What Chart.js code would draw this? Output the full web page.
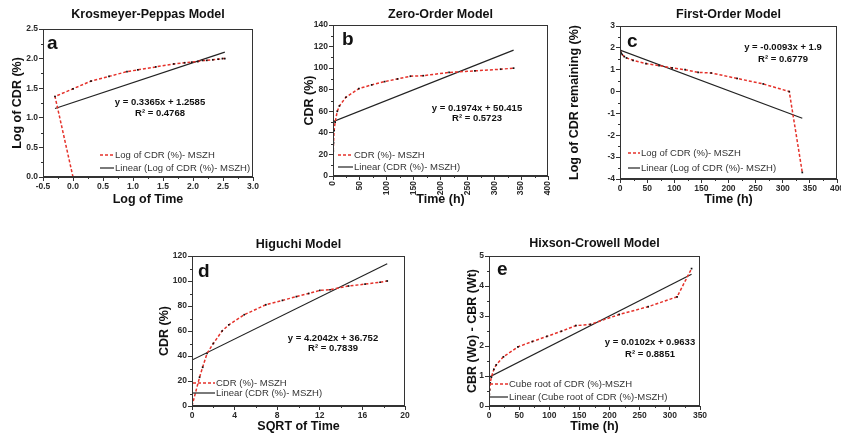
<!DOCTYPE html>
<html lang="en">
<head>
<meta charset="UTF-8">
<title>Release kinetics models</title>
<script src="https://cdn.jsdelivr.net/npm/chart.js@4.4.1/dist/chart.umd.min.js"></script>
<style>
  body { margin: 0; background: #fff; }
  #page { position: relative; width: 841px; height: 434px; overflow: hidden; }
  .panel { position: absolute; }
</style>
</head>
<body>
<div id="page">
  <div class="panel" style="left:0px;top:0px;width:280px;height:210px"><canvas id="chart-a"></canvas></div>
  <div class="panel" style="left:290px;top:0px;width:280px;height:210px"><canvas id="chart-b"></canvas></div>
  <div class="panel" style="left:560px;top:0px;width:281px;height:210px"><canvas id="chart-c"></canvas></div>
  <div class="panel" style="left:150px;top:210px;width:280px;height:224px"><canvas id="chart-d"></canvas></div>
  <div class="panel" style="left:440px;top:210px;width:280px;height:224px"><canvas id="chart-e"></canvas></div>
</div>

<script>
// ---- data ----
// sampling times (h)
const timeH = [0, 0.5, 1, 2, 4, 8, 12, 24, 48, 72, 96, 120, 144, 168, 216, 264, 312, 336];
// cumulative drug release (%) - MSZH
const cdrPct = [0, 23, 31, 42, 50, 60, 65, 73, 81, 84.5, 87.5, 90, 92.5, 93, 96, 97.5, 99, 100];

// a: Korsmeyer-Peppas (log CDR vs log time)
const logTime = [0, -0.3, 0, 0.3, 0.6, 0.9, 1.08, 1.38, 1.68, 1.86, 1.98, 2.08, 2.16, 2.23, 2.33, 2.42, 2.49, 2.53];
const logCdr = [0, 1.36, 1.49, 1.62, 1.70, 1.78, 1.81, 1.86, 1.91, 1.93, 1.94, 1.95, 1.97, 1.97, 1.98, 1.99, 2.0, 2.0];
const fitA_x = [-0.3, 2.53];
const fitA_y = [1.157, 2.11];

// b: zero order (CDR vs time)
const fitB_x = [0, 336];
const fitB_y = [50.4, 116.7];

// c: first order (log CDR remaining vs time)
const timeC = [0.5, 1, 2, 4, 8, 12, 24, 48, 72, 96, 120, 144, 168, 216, 264, 312, 336];
const logRemaining = [1.89, 1.84, 1.76, 1.70, 1.60, 1.54, 1.43, 1.28, 1.19, 1.08, 1.0, 0.88, 0.85, 0.6, 0.35, 0, -3.7];
const fitC_x = [0, 336];
const fitC_y = [1.9, -1.22];

// d: Higuchi (CDR vs sqrt time)
const sqrtTime = [0, 0.71, 1, 1.41, 2, 2.83, 3.46, 4.9, 6.93, 8.49, 9.8, 10.95, 12, 12.96, 14.7, 16.25, 17.66, 18.33];
const fitD_x = [0, 18.33];
const fitD_y = [36.75, 113.8];

// e: Hixson-Crowell (cube root difference vs time)
const cubeRootDiff = [0, 0.39, 0.54, 0.77, 0.96, 1.22, 1.37, 1.64, 1.97, 2.15, 2.32, 2.49, 2.68, 2.72, 3.05, 3.31, 3.64, 4.58];
const fitE_x = [0, 336];
const fitE_y = [0.96, 4.39];

// ---- drawing ----
const FONT = '"Liberation Sans", Arial, sans-serif';
const RED = '#e5322b';

function pts(xs, ys) {
    return xs.map((x, i) => ({ x: x, y: ys[i] }));
}

// frame, minor ticks, title, letter, equation and legend - placed relative to the plot area
const panelText = {
    id: 'panelText',
    afterDraw(chart, args, o) {
        const ctx = chart.ctx;
        const ca = chart.chartArea;
        ctx.save();
        ctx.strokeStyle = '#333';
        ctx.lineWidth = 1;
        ctx.strokeRect(Math.round(ca.left) + 0.5, Math.round(ca.top) + 0.5, Math.round(ca.width) - 1, Math.round(ca.height) - 1);

        // minor ticks half way between the labelled ones
        const xs = chart.scales.x, ys = chart.scales.y;
        ctx.beginPath();
        for (let v = xs.min + o.xMajor / 2; v < xs.max; v += o.xMajor) {
            const px = Math.round(xs.getPixelForValue(v)) + 0.5;
            ctx.moveTo(px, Math.round(ca.bottom)); ctx.lineTo(px, Math.round(ca.bottom) + 2);
        }
        for (let v = ys.min + o.yMajor / 2; v < ys.max; v += o.yMajor) {
            const py = Math.round(ys.getPixelForValue(v)) + 0.5;
            ctx.moveTo(Math.round(ca.left), py); ctx.lineTo(Math.round(ca.left) - 2, py);
        }
        ctx.stroke();

        ctx.fillStyle = '#111';
        ctx.textBaseline = 'middle';
        ctx.textAlign = 'center';
        ctx.font = 'bold 12.5px ' + FONT;
        ctx.fillText(o.title, (ca.left + ca.right) / 2, ca.top + o.titleDy);

        ctx.textAlign = 'left';
        ctx.font = 'bold 19px ' + FONT;
        ctx.fillText(o.letter, ca.left + o.letterAt[0] - 5, ca.top + o.letterAt[1]);

        ctx.textAlign = 'center';
        ctx.font = 'bold 9.5px ' + FONT;
        ctx.fillText(o.eq[0], ca.left + o.eqAt[0], ca.top + o.eqAt[1]);
        ctx.fillText(o.eq[1], ca.left + o.eqAt[0], ca.top + o.eqAt[1] + o.eqGap);

        // legend
        const lx0 = ca.left + o.legAt[0], lx1 = ca.left + o.legAt[1];
        const ly = [ca.bottom - o.legAt[2], ca.bottom - o.legAt[3]];
        ctx.lineWidth = 1.5;
        ctx.strokeStyle = RED;
        ctx.setLineDash([3, 2]);
        ctx.beginPath(); ctx.moveTo(lx0, ly[0]); ctx.lineTo(lx1, ly[0]); ctx.stroke();
        ctx.setLineDash([]);
        ctx.strokeStyle = '#222';
        ctx.lineWidth = 1.2;
        ctx.beginPath(); ctx.moveTo(lx0, ly[1]); ctx.lineTo(lx1, ly[1]); ctx.stroke();
        ctx.textAlign = 'left';
        ctx.fillStyle = '#333';
        ctx.font = '9.5px ' + FONT;
        ctx.fillText(o.legend[0], lx1 + 1, ly[0]);
        ctx.fillText(o.legend[1], lx1 + 1, ly[1]);
        ctx.restore();
    }
};

function axis(opts) {
    return {
        type: 'linear',
        min: opts.min,
        max: opts.max,
        afterFit: opts.afterFit,
        grid: { drawOnChartArea: false, tickLength: 4, color: '#333', lineWidth: 1 },
        border: { color: '#333', width: 1 },
        title: {
            display: true,
            text: opts.title,
            color: '#111',
            font: { family: FONT, size: 12.5, weight: 'bold' },
            padding: { top: opts.titlePad, bottom: opts.titlePad }
        },
        ticks: {
            stepSize: opts.major,
            autoSkip: false,
            padding: 1,
            color: '#2a2a2a',
            minRotation: opts.rot || 0,
            maxRotation: opts.rot || 0,
            font: { family: FONT, size: 8.5, weight: 'bold' },
            callback: v => opts.dec ? v.toFixed(opts.dec) : String(Math.round(v))
        }
    };
}

function makePanel(id, p) {
    const yWidth = p.yWidth, xHeight = p.xHeight;
    p.text.xMajor = p.x.major;
    p.text.yMajor = p.y.major;
    new Chart(document.getElementById(id), {
        type: 'scatter',
        data: {
            datasets: [
                {
                    data: pts(p.xs, p.ys),
                    showLine: true,
                    borderColor: RED,
                    borderWidth: 1.5,
                    borderDash: [3, 2],
                    pointStyle: 'rect',
                    pointRadius: 1.2,
                    pointBorderWidth: 0,
                    pointBackgroundColor: '#111'
                },
                {
                    data: pts(p.fitX, p.fitY),
                    showLine: true,
                    borderColor: '#222',
                    borderWidth: 1.2,
                    pointRadius: 0
                }
            ]
        },
        options: {
            responsive: true,
            maintainAspectRatio: false,
            animation: false,
            layout: { padding: { left: 0, top: p.padTop, right: p.padRight, bottom: 0 } },
            plugins: {
                legend: { display: false },
                tooltip: { enabled: false },
                panelText: p.text
            },
            scales: {
                x: axis(Object.assign({}, p.x, {
                    afterFit: s => { s.height = xHeight; s.paddingLeft = 0; s.paddingRight = 0; }
                })),
                y: axis(Object.assign({}, p.y, {
                    afterFit: s => { s.width = yWidth; s.paddingTop = 0; s.paddingBottom = 0; }
                }))
            }
        },
        plugins: [panelText]
    });
}

makePanel('chart-a', {
    xs: logTime, ys: logCdr, fitX: fitA_x, fitY: fitA_y,
    yWidth: 43, xHeight: 33, padTop: 29, padRight: 27,
    x: { min: -0.5, max: 3, major: 0.5, dec: 1, title: 'Log of Time', titlePad: 2.5 },
    y: { min: 0, max: 2.5, major: 0.5, dec: 1, title: 'Log of CDR (%)', titlePad: 10.5 },
    text: {
        title: 'Krosmeyer-Peppas Model', titleDy: -14, letter: 'a', letterAt: [9, 15],
        eq: ['y = 0.3365x + 1.2585', 'R\u00b2 = 0.4768'], eqAt: [117, 73], eqGap: 11,
        legend: ['Log of CDR (%)- MSZH', 'Linear (Log of CDR (%)- MSZH)'], legAt: [57, 71, 22, 9]
    }
});

makePanel('chart-b', {
    xs: timeH, ys: cdrPct, fitX: fitB_x, fitY: fitB_y,
    yWidth: 43, xHeight: 34, padTop: 25, padRight: 22,
    x: { min: 0, max: 400, major: 50, title: 'Time (h)', titlePad: 2.5, rot: 90 },
    y: { min: 0, max: 140, major: 20, title: 'CDR (%)', titlePad: 12.5 },
    text: {
        title: 'Zero-Order Model', titleDy: -10, letter: 'b', letterAt: [14, 15],
        eq: ['y = 0.1974x + 50.415', 'R\u00b2 = 0.5723'], eqAt: [144, 83], eqGap: 10.5,
        legend: ['CDR (%)- MSZH', 'Linear (CDR (%)- MSZH)'], legAt: [5, 20, 21, 9]
    }
});

makePanel('chart-c', {
    xs: timeC, ys: logRemaining, fitX: fitC_x, fitY: fitC_y,
    yWidth: 60, xHeight: 31, padTop: 26, padRight: 4,
    x: { min: 0, max: 400, major: 50, title: 'Time (h)', titlePad: 2.5 },
    y: { min: -4, max: 3, major: 1, title: 'Log of CDR remaining (%)', titlePad: 7.5 },
    text: {
        title: 'First-Order Model', titleDy: -11, letter: 'c', letterAt: [12, 16],
        eq: ['y = -0.0093x + 1.9', 'R\u00b2 = 0.6779'], eqAt: [163, 21], eqGap: 12,
        legend: ['Log of CDR (%)- MSZH', 'Linear (Log of CDR (%)- MSZH)'], legAt: [8, 20, 26, 11]
    }
});

makePanel('chart-d', {
    xs: sqrtTime, ys: cdrPct, fitX: fitD_x, fitY: fitD_y,
    yWidth: 42, xHeight: 28, padTop: 46, padRight: 25,
    x: { min: 0, max: 20, major: 4, title: 'SQRT of Time', titlePad: 0 },
    y: { min: 0, max: 120, major: 20, title: 'CDR (%)', titlePad: 7.5 },
    text: {
        title: 'Higuchi Model', titleDy: -11, letter: 'd', letterAt: [11, 16],
        eq: ['y = 4.2042x + 36.752', 'R\u00b2 = 0.7839'], eqAt: [141, 82], eqGap: 10,
        legend: ['CDR (%)- MSZH', 'Linear (CDR (%)- MSZH)'], legAt: [1, 23, 23, 13]
    }
});

makePanel('chart-e', {
    xs: timeH, ys: cubeRootDiff, fitX: fitE_x, fitY: fitE_y,
    yWidth: 49, xHeight: 28, padTop: 46, padRight: 20,
    x: { min: 0, max: 350, major: 50, title: 'Time (h)', titlePad: 0 },
    y: { min: 0, max: 5, major: 1, title: 'CBR (Wo) - CBR (Wt)', titlePad: 25.5 },
    text: {
        title: 'Hixson-Crowell Model', titleDy: -12, letter: 'e', letterAt: [13, 14],
        eq: ['y = 0.0102x + 0.9633', 'R\u00b2 = 0.8851'], eqAt: [161, 86], eqGap: 12,
        legend: ['Cube root of CDR (%)-MSZH', 'Linear (Cube root of CDR (%)-MSZH)'], legAt: [1, 19, 22, 9]
    }
});
</script>
</body>
</html>
